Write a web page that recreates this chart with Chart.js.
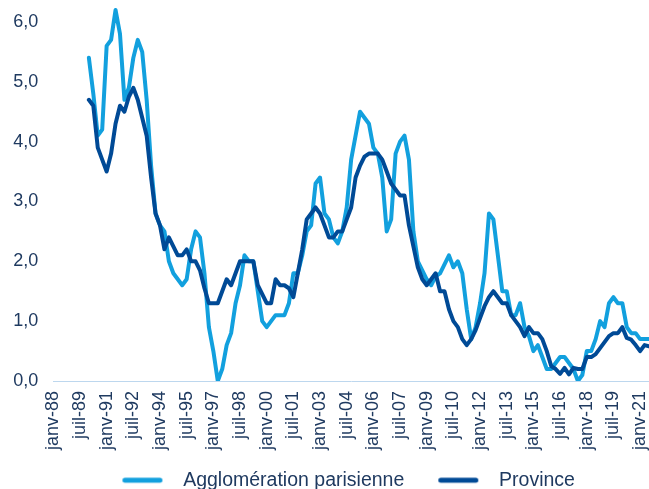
<!DOCTYPE html>
<html>
<head>
<meta charset="utf-8">
<script src="https://cdn.jsdelivr.net/npm/chart.js@4.4.1/dist/chart.umd.min.js"></script>
<style>
html,body{margin:0;padding:0;background:#ffffff;}
#wrap{width:649px;height:489px;position:relative;}
</style>
</head>
<body>
<div id="wrap"><canvas id="c" width="649" height="489"></canvas></div>
<script>
// ---- Data (quarterly, janv-88 .. juil-21) ----
const monthNames = ['janv', 'avr', 'juil', 'oct'];
const years = ['88','89','90','91','92','93','94','95','96','97','98','99','00','01','02','03','04','05','06','07','08','09','10','11','12','13','14','15','16','17','18','19','20','21'];
const categories = [];
years.forEach(y => monthNames.forEach(m => categories.push(m + '-' + y)));
categories.length = 135; // janv-88 .. juil-21

const agglo = [null,null,null,null,null,null,null,null,
  5.4,4.8,4.1,4.2,5.6,5.7,6.2,5.8,4.7,4.9,
  5.4,5.7,5.5,4.7,3.6,2.8,2.6,2.5,2.0,1.8,
  1.7,1.6,1.7,2.2,2.5,2.4,1.8,0.9,0.5,0.0,
  0.2,0.6,0.8,1.3,1.6,2.1,2.0,2.0,1.5,1.0,
  0.9,1.0,1.1,1.1,1.1,1.3,1.8,1.8,2.1,2.5,
  2.6,3.3,3.4,2.8,2.7,2.4,2.3,2.5,2.9,3.7,
  4.1,4.5,4.4,4.3,3.9,3.8,3.4,2.5,2.7,3.8,
  4.0,4.1,3.7,2.5,2.0,1.85,1.7,1.6,1.75,1.8,
  1.95,2.1,1.9,2.0,1.8,1.2,0.7,0.9,1.3,1.8,
  2.8,2.7,2.1,1.5,1.5,1.1,1.1,1.3,0.9,0.75,
  0.5,0.6,0.4,0.2,0.2,0.3,0.4,0.4,0.3,0.2,
  0.0,0.1,0.5,0.5,0.7,1.0,0.9,1.3,1.4,1.3,
  1.3,0.9,0.8,0.8,0.7,0.7,0.7];

const province = [null,null,null,null,null,null,null,null,
  4.7,4.6,3.9,3.7,3.5,3.8,4.3,4.6,4.5,4.75,
  4.9,4.7,4.4,4.1,3.4,2.8,2.6,2.2,2.4,2.25,
  2.1,2.1,2.2,2.0,2.0,1.85,1.55,1.3,1.3,1.3,
  1.5,1.7,1.6,1.8,2.0,2.0,2.0,2.0,1.6,1.45,
  1.3,1.3,1.7,1.6,1.6,1.55,1.4,1.8,2.2,2.7,
  2.8,2.9,2.8,2.6,2.4,2.4,2.5,2.5,2.7,2.9,
  3.4,3.6,3.75,3.8,3.8,3.8,3.7,3.5,3.3,3.2,
  3.1,3.1,2.6,2.25,1.9,1.7,1.6,1.7,1.8,1.5,
  1.5,1.2,1.0,0.9,0.7,0.6,0.7,0.85,1.05,1.25,
  1.4,1.5,1.4,1.3,1.3,1.1,1.0,0.9,0.75,0.9,
  0.8,0.8,0.7,0.5,0.25,0.2,0.12,0.22,0.11,0.22,
  0.2,0.2,0.4,0.4,0.45,0.55,0.65,0.75,0.8,0.8,
  0.9,0.72,0.69,0.6,0.5,0.6,0.58];

const seriesNames = ['Agglomération parisienne', 'Province'];
const yTicks = [0, 1, 2, 3, 4, 5, 6];

// ---- Styles ----
const LIGHT = '#12A0DE';
const DARK = '#004A96';
const TEXT = '#1F3A60';
const AXIS = '#BDD7EE';
const FONT = "'Liberation Sans', Arial, sans-serif";

const LEG_PAD = 17;          // legend labels.padding
const LEG_OFF = 34 - LEG_PAD; // marker offset inside legend box
const LEG_BOX = 50.5 + LEG_OFF;
const LEG_SHIFT = -11;

function legendMarker(color) {
  const c = document.createElement('canvas');
  c.width = Math.round(LEG_BOX); c.height = 10;
  const g = c.getContext('2d');
  g.strokeStyle = color; g.lineWidth = 5; g.lineCap = 'round';
  g.beginPath(); g.moveTo(LEG_OFF + 2.5, 5); g.lineTo(LEG_OFF + 37.5, 5); g.stroke();
  return c;
}

const legendShift = {
  id: 'legendShift',
  afterLayout(chart) {
    if (chart.legend) { chart.legend.left += LEG_SHIFT; chart.legend.right += LEG_SHIFT; }
  }
};

const ctx = document.getElementById('c').getContext('2d');
new Chart(ctx, {
  type: 'line',
  data: {
    labels: categories,
    datasets: [
      { label: seriesNames[1], data: province, borderColor: DARK, backgroundColor: DARK,
        borderWidth: 4, pointRadius: 0, tension: 0, fill: false,
        borderCapStyle: 'round', borderJoinStyle: 'round' },
      { label: seriesNames[0], data: agglo, borderColor: LIGHT, backgroundColor: LIGHT,
        borderWidth: 4, pointRadius: 0, tension: 0, fill: false,
        borderCapStyle: 'round', borderJoinStyle: 'round' }
    ]
  },
  plugins: [legendShift],
  options: {
    responsive: false,
    animation: false,
    devicePixelRatio: 1,
    layout: { padding: { top: 4, left: 0, right: 0, bottom: -11 } },
    scales: {
      x: {
        type: 'category',
        offset: false,
        grid: { display: false, drawTicks: false },
        border: { display: true, color: AXIS, width: 1 },
        ticks: {
          autoSkip: false, maxRotation: 90, minRotation: 90, padding: 10,
          color: TEXT, font: { family: FONT, size: 18 },
          callback: function (v, i) { return i % 6 === 0 ? this.getLabelForValue(v) : null; }
        },
        afterFit: function (s) { s.height = 72.5; s.paddingLeft = 0; s.paddingRight = 0; }
      },
      y: {
        min: 0, max: 6.3,
        grid: { display: false, drawTicks: false },
        border: { display: false },
        afterBuildTicks: function (s) { s.ticks = yTicks.map(v => ({ value: v })); },
        ticks: {
          padding: 15, color: TEXT, font: { family: FONT, size: 18 },
          callback: v => v.toFixed(1).replace('.', ',')
        },
        afterFit: function (s) { s.width = 53.3; s.paddingTop = 0; s.paddingBottom = 0; }
      }
    },
    plugins: {
      tooltip: { enabled: false },
      legend: {
        position: 'bottom',
        fullSize: false,
        labels: {
          usePointStyle: true,
          pointStyleWidth: Math.round(LEG_BOX),
          padding: LEG_PAD,
          color: TEXT,
          font: { family: FONT, size: 19.5 },
          generateLabels: function (chart) {
            const items = Chart.defaults.plugins.legend.labels.generateLabels(chart);
            items.forEach(it => {
              it.pointStyle = legendMarker(it.datasetIndex === 0 ? DARK : LIGHT);
            });
            return items.reverse();
          }
        }
      }
    }
  }
});
</script>
</body>
</html>
